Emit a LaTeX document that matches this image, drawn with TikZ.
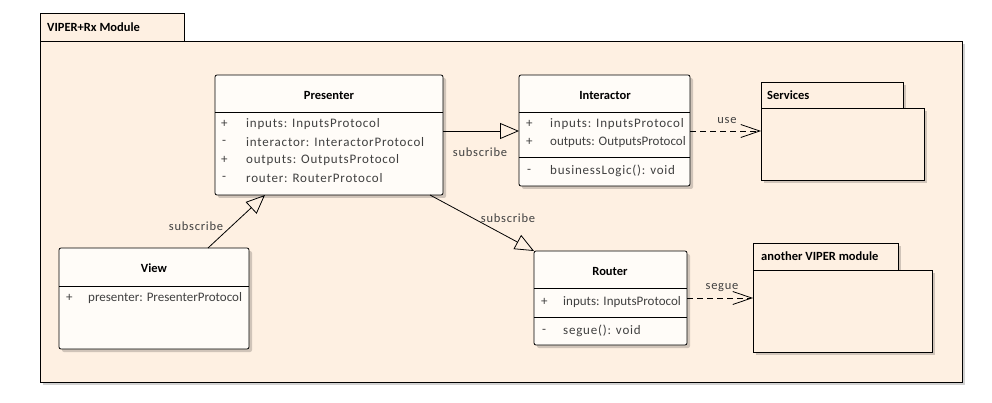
\documentclass[tikz,border=0pt]{standalone}
\usepackage{fontspec}
\setmainfont{Carlito}
\newfontfamily\spaced[LetterSpace=6]{Carlito}
\usetikzlibrary{arrows.meta,shadows}
\definecolor{pkgfill}{RGB}{254,240,226}
\definecolor{boxfill}{RGB}{255,252,248}
\definecolor{txt}{RGB}{64,64,64}
\begin{document}
\begin{tikzpicture}[x=1pt,y=-1pt,
  font=\fontsize{12.5}{15}\selectfont,
  shade/.style={drop shadow={shadow xshift=3pt,shadow yshift=-3pt,opacity=0.18,fill=black}},
  pkgbox/.style={draw=black,fill=pkgfill,line width=0.8pt,anchor=north west,inner sep=0pt,outer sep=0pt},
  classbox/.style={draw=black,fill=boxfill,line width=0.8pt,rounded corners=2pt,anchor=north west,inner sep=0pt,outer sep=0pt,shade},
  divider/.style={line width=0.8pt},
  title/.style={font=\fontsize{12.5}{15}\selectfont\bfseries,inner sep=0pt},
  ptitle/.style={font=\fontsize{12.5}{15}\selectfont\bfseries,inner sep=0pt,anchor=west},
  attr/.style={text=txt,inner sep=0pt,anchor=west,font=\fontsize{13}{15}\selectfont},
  sattr/.style={attr,font=\fontsize{13}{15}\spaced},
  lbl/.style={text=txt,inner sep=0pt,font=\fontsize{12.5}{15}\spaced},
  gen/.style={line width=0.8pt,-{Triangle[open,length=19pt,width=16pt]}},
  dep/.style={line width=0.8pt,dash pattern=on 6pt off 4pt,-{Straight Barb[length=19pt,width=13pt]}}
]
\useasboundingbox (0,0) rectangle (992,403);
% outer package
\node[pkgbox,shade,minimum width=922pt,minimum height=341pt] (pkgbody) at (40,41) {};
\node[pkgbox,minimum width=144pt,minimum height=28pt] (pkgtab) at (40,13) {};
\node[ptitle] (pkgtitle) at (47,27) {VIPER+Rx Module};

% Services package
\node[pkgbox,shade,minimum width=142pt,minimum height=26pt] (srvtab) at (761,82) {};
\node[pkgbox,shade,minimum width=163pt,minimum height=72pt] (srv) at (761,108) {};
\node[ptitle] (srvtitle) at (767,95) {Services};

% another VIPER module package
\node[pkgbox,shade,minimum width=145pt,minimum height=27pt] (anbtab) at (753,243) {};
\node[pkgbox,shade,minimum width=179pt,minimum height=82pt] (anb) at (753,270) {};
\node[ptitle] (anbtitle) at (761,256) {another VIPER module};

% Presenter
\node[classbox,minimum width=228pt,minimum height=120pt] (pres) at (215,75) {};
\draw[divider] ([yshift=-37pt]pres.north west) -- ([yshift=-37pt]pres.north east);
\node[title] (prestitle) at (329,95) {Presenter};
\node[attr] (pa1s) at (221,124) {+};
\node[sattr] (pa1) at (246,124) {inputs: InputsProtocol};
\node[attr] (pa2s) at (222,142) {-};
\node[sattr] (pa2) at (246,142) {interactor: InteractorProtocol};
\node[attr] (pa3s) at (221,160) {+};
\node[sattr] (pa3) at (246,160) {outputs: OutputsProtocol};
\node[attr] (pa4s) at (222,178) {-};
\node[sattr] (pa4) at (246,178) {router: RouterProtocol};

% Interactor
\node[classbox,minimum width=171pt,minimum height=111pt] (int) at (519,75) {};
\draw[divider] ([yshift=-37pt]int.north west) -- ([yshift=-37pt]int.north east);
\draw[divider] ([yshift=-82pt]int.north west) -- ([yshift=-82pt]int.north east);
\node[title] (inttitle) at (605,95) {Interactor};
\node[attr] (ia1s) at (526,124) {+};
\node[sattr] (ia1) at (550,124) {inputs: InputsProtocol};
\node[attr] (ia2s) at (526,142) {+};
\node[attr] (ia2) at (550,142) {outputs: OutputsProtocol};
\node[attr] (im1s) at (527,171) {-};
\node[sattr] (im1) at (550,171) {businessLogic(): void};

% View
\node[classbox,minimum width=190pt,minimum height=101pt] (view) at (59,248) {};
\draw[divider] ([yshift=-38pt]view.north west) -- ([yshift=-38pt]view.north east);
\node[title] (viewtitle) at (154,268) {View};
\node[attr] (va1s) at (66,298) {+};
\node[attr] (va1) at (88,298) {presenter: PresenterProtocol};

% Router
\node[classbox,minimum width=153pt,minimum height=94pt] (router) at (534,251) {};
\draw[divider] ([yshift=-37pt]router.north west) -- ([yshift=-37pt]router.north east);
\draw[divider] ([yshift=-66pt]router.north west) -- ([yshift=-66pt]router.north east);
\node[title] (routertitle) at (610,271) {Router};
\node[attr] (ra1s) at (541,302) {+};
\node[attr] (ra1) at (563,302) {inputs: InputsProtocol};
\node[attr] (rm1s) at (542,331) {-};
\node[sattr] (rm1) at (563,331) {segue(): void};

% connectors
\draw[gen] ([yshift=-56pt]pres.north east) -- ([yshift=-56pt]int.north west);
\node[lbl] (l1) at (480,152) {subscribe};
\draw[gen] ([xshift=149pt]view.north west) -- ([xshift=50pt]pres.south west);
\node[lbl] (l2) at (196,226) {subscribe};
\draw[gen] ([xshift=-13pt]pres.south east) -- (router.north west);
\node[lbl] (l3) at (508,218) {subscribe};
\draw[dep] ([yshift=-56pt]int.north east) -- ([yshift=-23pt]srv.north west);
\node[lbl] (l4) at (727,121) {use};
\draw[dep] ([yshift=-47pt]router.north east) -- ([yshift=-28pt]anb.north west);
\node[lbl] (l5) at (722,288) {segue};
\end{tikzpicture}
\end{document}
